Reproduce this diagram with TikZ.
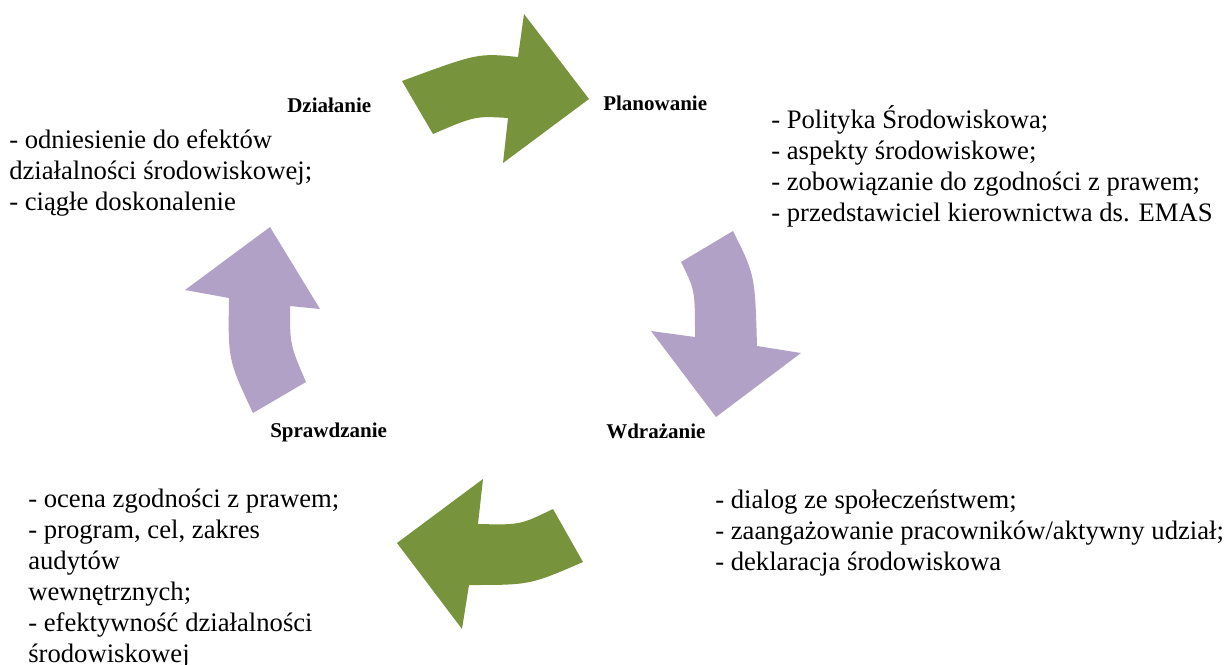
\documentclass[tikz,border=0pt]{standalone}
\usepackage{fontspec}
\setmainfont{Liberation Serif}
\usepackage{xcolor}
\usepackage{tikz}
\usetikzlibrary{positioning}

\definecolor{arrowgreen}{HTML}{77933C}
\definecolor{arrowlilac}{HTML}{B2A1C7}

\begin{document}
\begin{tikzpicture}[x=0.75pt,y=0.75pt,yscale=-1,
  greenarrow/.style={fill=arrowgreen,draw=none},
  lilacarrow/.style={fill=arrowlilac,draw=none},
  steplabel/.style={inner sep=0pt,anchor=base west,font=\bfseries\fontsize{15.75}{18}\selectfont},
  steptext/.style={inner sep=0pt,anchor=base west,align=left,font=\fontsize{20}{23.25}\selectfont}]
\useasboundingbox (0,0) rectangle (1228,664);

%Curved Right Arrow (Dzialanie -> Planowanie)
\fill[greenarrow] (402,81) .. controls (478,53) .. (518,57) -- (524,14) -- (589,99) -- (503,163) -- (508,118) .. controls (475,116) .. (433,134) -- cycle ;
%Curved Down Arrow (Planowanie -> Wdrazanie)
\fill[lilacarrow] (681,262) -- (733,231) .. controls (755,275) .. (757,346) -- (801,353) -- (716,417) -- (651,331) -- (695,337) .. controls (695,290) .. cycle ;
%Curved Left Arrow (Wdrazanie -> Sprawdzanie)
\fill[greenarrow] (553,509) -- (583,562) .. controls (530,585) .. (469,585) -- (462,629) -- (397,543) -- (483,479) -- (478,524) .. controls (520,525) .. cycle ;
%Curved Up Arrow (Sprawdzanie -> Dzialanie)
\fill[lilacarrow] (253,413) -- (306,382) .. controls (290,345) .. (290,306) -- (320,309) -- (270,227) -- (185,290) -- (229,298) .. controls (228,360) .. cycle ;

% Step labels
\node[steplabel] (dzialanie) at (287,112) {Działanie};
\node[steplabel] (planowanie) at (603,110) {Planowanie};
\node[steplabel] (wdrazanie) at (606,438) {Wdrażanie};
\node[steplabel] (sprawdzanie) at (270,437) {Sprawdzanie};

% Text Node (anchored at the baseline of the last line)
\node[steptext] (dzialanie-txt) at (9,210) {- odniesienie do efektów\\działalności środowiskowej;\\- ciągłe doskonalenie};
\node[steptext] (planowanie-txt) at (771,221) {- Polityka Środowiskowa;\\- aspekty środowiskowe;\\- zobowiązanie do zgodności z prawem;\\- przedstawiciel kierownictwa ds. EMAS};
\node[steptext] (wdrazanie-txt) at (715,570) {- dialog ze społeczeństwem;\\- zaangażowanie pracowników/aktywny udział;\\- deklaracja środowiskowa};
\node[steptext] (sprawdzanie-txt) at (28,662) {- ocena zgodności z prawem;\\- program, cel, zakres\\audytów\\wewnętrznych;\\- efektywność działalności\\środowiskowej};
\end{tikzpicture}
\end{document}
